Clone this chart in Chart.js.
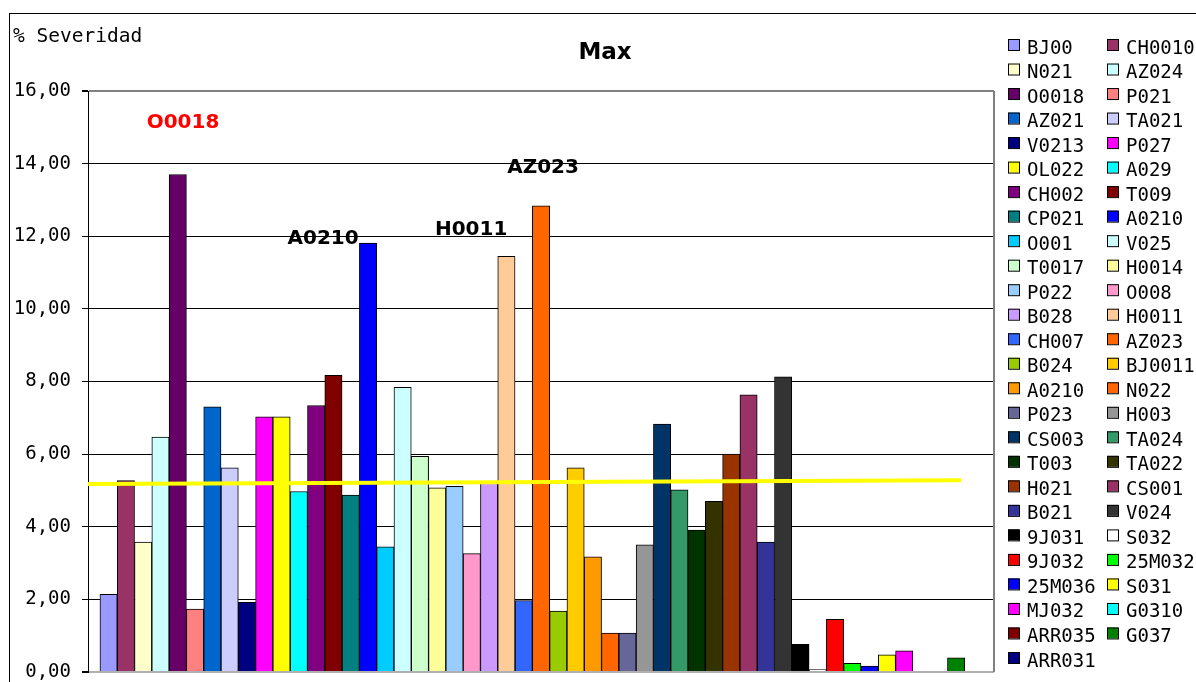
<!DOCTYPE html>
<html>
<head>
<meta charset="utf-8">
<title>Max</title>
<script src="https://cdn.jsdelivr.net/npm/chart.js@4/dist/chart.umd.min.js"></script>
<style>
    html, body { margin: 0; padding: 0; background: #fff; overflow: hidden; }
    #wrap { position: relative; width: 1196px; height: 682px; }
</style>
</head>
<body>
<div id="wrap"><canvas id="maxChart" width="1196" height="682"></canvas></div>
<script>
// one bar per series, same order as the legend
const seriesNames = [
    'BJ00', 'CH0010', 'N021', 'AZ024', 'O0018', 'P021', 'AZ021', 'TA021', 'V0213', 'P027',
    'OL022', 'A029', 'CH002', 'T009', 'CP021', 'A0210', 'O001', 'V025', 'T0017', 'H0014',
    'P022', 'O008', 'B028', 'H0011', 'CH007', 'AZ023', 'B024', 'BJ0011', 'A0210', 'N022',
    'P023', 'H003', 'CS003', 'TA024', 'T003', 'TA022', 'H021', 'CS001', 'B021', 'V024',
    '9J031', 'S032', '9J032', '25M032', '25M036', 'S031', 'MJ032', 'G0310', 'ARR035', 'G037',
    'ARR031'
];

// % severidad (max) per series; null = no bar
const severity = [
    2.14, 5.27, 3.58, 6.47, 13.70, 1.73, 7.30, 5.62, 1.92, 7.03,
    7.03, 4.97, 7.34, 8.17, 4.87, 11.81, 3.45, 7.84, 5.94, 5.07,
    5.11, 3.26, 5.21, 11.45, 1.97, 12.84, 1.68, 5.62, 3.17, 1.07,
    1.07, 3.50, 6.83, 5.02, 3.91, 4.70, 6.00, 7.63, 3.58, 8.13,
    0.76, 0.07, 1.45, 0.24, 0.16, 0.47, 0.58, null, null, 0.39,
    null
];

const barColors = [
    '#9999FF', '#993366', '#FFFFCC', '#CCFFFF', '#660066', '#FF8080', '#0066CC', '#CCCCFF', '#000080', '#FF00FF',
    '#FFFF00', '#00FFFF', '#800080', '#800000', '#008080', '#0000FF', '#00CCFF', '#CCFFFF', '#CCFFCC', '#FFFF99',
    '#99CCFF', '#FF99CC', '#CC99FF', '#FFCC99', '#3366FF', '#FF6600', '#99CC00', '#FFCC00', '#FF9900', '#FF6600',
    '#666699', '#969696', '#003366', '#339966', '#003300', '#333300', '#993300', '#993366', '#333399', '#333333',
    '#000000', '#FFFFFF', '#FF0000', '#00FF00', '#0000FF', '#FFFF00', '#FF00FF', '#00FFFF', '#800000', '#008000',
    '#000080'
];

const yTicks = [0, 2, 4, 6, 8, 10, 12, 14, 16];

// yellow reference line (start / end, in data units)
const refLineX = [-1.19, 49.3];
const refLineY = [5.18, 5.28];

// labels written above the highest bars
const noteText = ['O0018', 'A0210', 'H0011', 'AZ023'];
const noteX = [4.30, 12.40, 20.96, 25.12];
const noteY = [14.97, 11.80, 12.04, 13.75];
const noteColor = ['#FF0000', '#000000', '#000000', '#000000'];

const MONO = '"DejaVu Sans Mono", monospace';
const SANS = '"DejaVu Sans", Verdana, sans-serif';

function formatTick(v) {
    return v.toFixed(2).replace('.', ',');
}

// frame, titles, plot border, notes and the two-column legend
const decorPlugin = {
    id: 'decor',
    beforeDraw(chart) {
        const ctx = chart.ctx;
        ctx.save();
        ctx.fillStyle = '#fff';
        ctx.fillRect(0, 0, chart.width, chart.height);
        ctx.strokeStyle = '#000';
        ctx.lineWidth = 1;
        ctx.strokeRect(9.5, 13.5, 1400, 1000);
        ctx.restore();
    },
    afterDatasetsDraw(chart) {
        const ctx = chart.ctx;
        const xs = chart.scales.x, ys = chart.scales.y;
        ctx.save();
        ctx.font = 'bold 20px ' + SANS;
        ctx.textAlign = 'center';
        ctx.textBaseline = 'alphabetic';
        noteText.forEach((t, i) => {
            ctx.fillStyle = noteColor[i];
            ctx.fillText(t, xs.getPixelForValue(noteX[i]), ys.getPixelForValue(noteY[i]));
        });
        ctx.restore();
    },
    afterDraw(chart) {
        const ctx = chart.ctx;
        const area = chart.chartArea;
        ctx.save();

        // right border of the plot area
        ctx.strokeStyle = '#808080';
        ctx.lineWidth = 2;
        ctx.beginPath();
        ctx.moveTo(area.right, area.top);
        ctx.lineTo(area.right, area.bottom);
        ctx.stroke();

        // axis title and chart title
        ctx.fillStyle = '#000';
        ctx.textAlign = 'left';
        ctx.textBaseline = 'alphabetic';
        ctx.font = '19.5px ' + MONO;
        ctx.fillText('% Severidad', 13, 41.5);
        ctx.textAlign = 'center';
        ctx.font = 'bold 23px ' + SANS;
        ctx.fillText('Max', 605, 59);

        // legend, filled row by row in two columns
        const colX = [1008, 1107];
        ctx.font = '19px ' + MONO;
        ctx.textAlign = 'left';
        ctx.lineWidth = 1;
        ctx.strokeStyle = '#000';
        seriesNames.forEach((name, i) => {
            const x = colX[i % 2];
            const y = 44.5 + Math.floor(i / 2) * 24.52;
            ctx.fillStyle = barColors[i];
            ctx.fillRect(x, y - 5.5, 11, 11);
            ctx.strokeRect(x + 0.5, y - 5, 11, 11);
            ctx.fillStyle = '#000';
            ctx.fillText(name, x + 19, y + 9);
        });
        ctx.restore();
    }
};

const ctx = document.getElementById('maxChart').getContext('2d');

new Chart(ctx, {
    type: 'bar',
    data: {
        datasets: [{
            type: 'line',
            label: 'ref',
            data: refLineX.map((x, i) => ({ x: x, y: refLineY[i] })),
            borderColor: '#FFFF00',
            borderWidth: 4,
            pointRadius: 0,
            order: 0
        }, {
            type: 'bar',
            label: 'Max',
            data: severity.map((v, i) => ({ x: i, y: v })),
            backgroundColor: barColors,
            borderColor: '#000',
            borderWidth: 1,
            barPercentage: 1,
            categoryPercentage: 1,
            order: 1
        }]
    },
    options: {
        responsive: false,
        animation: false,
        devicePixelRatio: 1,
        layout: { padding: { left: 10, right: 202, top: 91, bottom: 10 } },
        plugins: {
            legend: { display: false },
            title: { display: false },
            tooltip: { enabled: false }
        },
        scales: {
            x: {
                type: 'linear',
                display: false,
                offset: false,
                min: -1.19,
                max: 51.19,
                ticks: { stepSize: 1 }
            },
            y: {
                min: 0,
                max: 16,
                afterBuildTicks: s => { s.ticks = yTicks.map(v => ({ value: v })); },
                afterFit: s => {
                    s.width = 78;
                    s.paddingTop = 0;
                    s.paddingBottom = 0;
                },
                ticks: {
                    callback: v => formatTick(v),
                    color: '#000',
                    padding: 11,
                    font: { family: MONO, size: 19 }
                },
                grid: {
                    color: c => (c.tick && c.tick.value === 16) ? '#808080'
                        : (c.tick && c.tick.value === 0) ? '#B0B0B0' : '#000',
                    lineWidth: c => (c.tick && (c.tick.value === 16 || c.tick.value === 0)) ? 2 : 1,
                    tickColor: '#000',
                    tickLength: 6
                },
                border: { color: '#000', width: 1 }
            }
        }
    },
    plugins: [decorPlugin]
});
</script>
</body>
</html>
